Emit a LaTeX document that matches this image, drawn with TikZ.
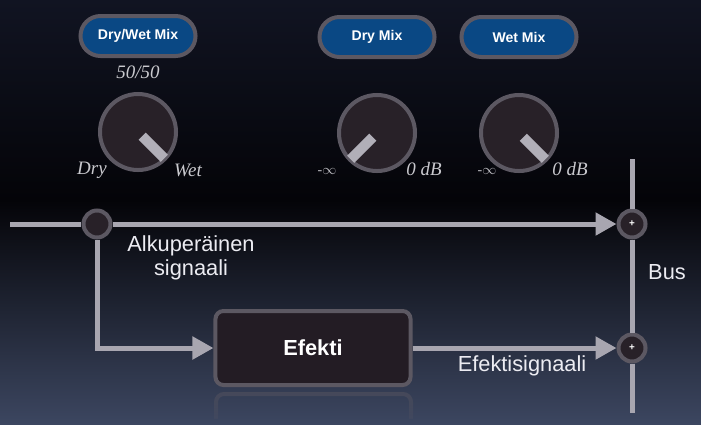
\documentclass[tikz,border=0pt]{standalone}
\usepackage{fontspec}
\setmainfont{Liberation Serif}
\setsansfont{Liberation Sans}
\usepackage{xcolor}
\usetikzlibrary{arrows.meta,shapes.misc,fadings}

\definecolor{bgtop}{RGB}{17,20,34}
\definecolor{bgmid}{RGB}{4,4,8}
\definecolor{bgbot}{RGB}{60,70,96}
\definecolor{wire}{RGB}{168,166,176}
\definecolor{rim}{RGB}{92,88,98}
\definecolor{knobfill}{RGB}{40,33,40}
\definecolor{boxfill}{RGB}{35,28,36}
\definecolor{pillblue}{RGB}{10,72,132}
\definecolor{labeltext}{RGB}{236,236,242}

\begin{document}
\begin{tikzpicture}[x=0.025cm,y=-0.025cm,
    pill/.style={rounded rectangle, draw=rim, line width=0.1cm, fill=pillblue,
        minimum width=2.875cm, minimum height=1cm, inner sep=0pt, text=white,
        font=\sffamily\bfseries\fontsize{10}{12}\selectfont},
    knob/.style={circle, draw=rim, line width=0.1cm, fill=knobfill,
        minimum size=1.9cm, inner sep=0pt},
    pointer/.style={draw=wire!90!white, line width=0.25cm},
    scalelabel/.style={text=labeltext!85!black, font=\itshape\fontsize{13.5}{16}\selectfont},
    minuslabel/.style={text=labeltext!80!black, font=\fontsize{10}{12}\selectfont},
    label/.style={text=labeltext, align=center, font=\sffamily\fontsize{15.5}{17}\selectfont},
    wireline/.style={draw=wire, line width=0.125cm},
    sig/.style={wireline, -{Triangle[length=0.525cm,width=0.55cm]}},
    tap/.style={circle, draw=rim, line width=0.1cm, fill=knobfill,
        minimum size=0.675cm, inner sep=0pt},
    sum/.style={tap, text=white, font=\sffamily\bfseries\fontsize{7}{8}\selectfont},
    fxbox/.style={rectangle, rounded corners=0.2cm, draw=rim, line width=0.1cm,
        fill=boxfill, minimum width=4.875cm, minimum height=1.85cm, text=white,
        font=\sffamily\bfseries\fontsize{15.5}{18}\selectfont}]

    \shade[top color=bgtop, bottom color=bgmid] (0,0) rectangle (701,200);
    \shade[top color=bgmid, bottom color=bgbot] (0,200) rectangle (701,424);
    \useasboundingbox (0,0) rectangle (701,424);

    \node[pill] (drywet) at (138,36) {Dry/Wet Mix};
    \node[pill] (drymix) at (377,37) {Dry Mix};
    \node[pill] (wetmix) at (519,37) {Wet Mix};
    \node[scalelabel] (ratio) at (138,72) {50/50};

    \node[knob] (kA) at (138,132) {};
    \node[knob] (kB) at (377,133) {};
    \node[knob] (kC) at (519,133) {};
    \draw[pointer] (kA.center) ++(-45:0.15cm) -- ++(-45:0.78cm);
    \draw[pointer] (kB.center) ++(-135:0.15cm) -- ++(-135:0.78cm);
    \draw[pointer] (kC.center) ++(-45:0.15cm) -- ++(-45:0.78cm);

    \node[scalelabel] (dryA) at (92,170) {Dry};
    \node[scalelabel] (wetA) at (188,170) {Wet};
    \node[minuslabel] (minB) at (327,171) {-$\infty$};
    \node[scalelabel] (zeroB) at (424,169) {0 dB};
    \node[minuslabel] (minC) at (487,171) {-$\infty$};
    \node[scalelabel] (zeroC) at (570,169) {0 dB};

    \begin{scope}
        \clip (200,390) rectangle (430,418);
        \draw[rim, line width=0.1cm, rounded corners=0.2cm,
            opacity=0.45, path fading=south] (216,394) rectangle (411,436);
    \end{scope}

    \coordinate (in) at (10,224);
    \coordinate (bustop) at (632,159);
    \coordinate (busbot) at (632,413);
    \node[tap] (split) at (97,224) {};
    \node[sum] (sumdry) at (632,224) {+};
    \node[sum] (sumwet) at (632,348) {+};
    \node[fxbox] (fx) at (313,348) {Efekti};

    \draw[wireline] (in) -- (split.west);
    \draw[sig] (split.east) -- (sumdry.west);
    \draw[sig] (split.south) |- (fx.west);
    \draw[sig] (fx.east) -- (sumwet.west);
    \draw[wireline] (bustop) -- (sumdry.north);
    \draw[wireline] (sumdry.south) -- (sumwet.north);
    \draw[wireline] (sumwet.south) -- (busbot);

    \node[label] (orig) at (191,258) {Alkuperäinen\\signaali};
    \node[label] (fxsig) at (522,366) {Efektisignaali};
    \node[label] (bus) at (667,272) {Bus};
\end{tikzpicture}
\end{document}
